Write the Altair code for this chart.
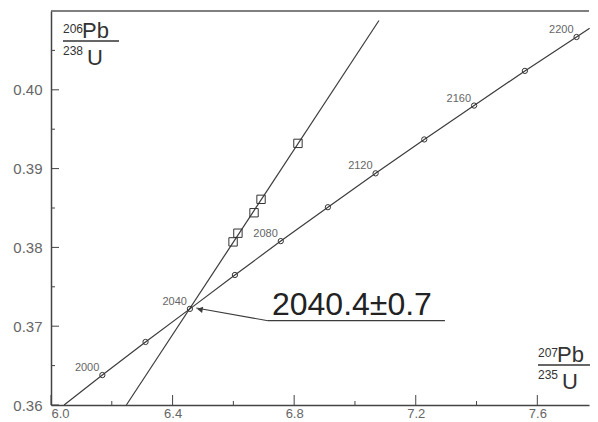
import altair as alt
import pandas as pd

# ---- data ----
ages = [2000, 2020, 2040, 2060, 2080, 2100, 2120, 2140, 2160, 2180, 2200]
conc_x = [6.169, 6.311, 6.457, 6.605, 6.756, 6.911, 7.068, 7.228, 7.392, 7.559, 7.729]
conc_y = [0.3638, 0.3680, 0.3722, 0.3765, 0.3808, 0.3851, 0.3894, 0.3937, 0.3980, 0.4024, 0.4067]
# concordia curve where it leaves the frame (bottom-left and top-right)
curve_x = [6.043] + conc_x + [7.772]
curve_y = [0.3600] + conc_y + [0.4078]
labelled_ages = [2000, 2040, 2080, 2120, 2160, 2200]

data_x = [6.599, 6.615, 6.668, 6.691, 6.8125]
data_y = [0.3807, 0.3818, 0.3844, 0.3861, 0.3932]

disc_x = [6.248, 7.079]
disc_y = [0.3600, 0.4088]

result_text = ["2040.4±0.7"]
result_xy = [6.727, 0.3714]
underline_x = [6.714, 7.296]
underline_y = 0.3707
arrow_x = [6.714, 6.478]
arrow_y = [0.3707, 0.3723]

x_major = [6.0, 6.4, 6.8, 7.2, 7.6]
x_minor = [6.2, 6.6, 7.0, 7.4]
y_major = [0.36, 0.37, 0.38, 0.39, 0.40]
y_minor = [0.365, 0.375, 0.385, 0.395, 0.405]

# ---- layout ----
W, H = 538, 394
FONT = "Liberation Sans"
LINE = "#3c3c3c"

xs = alt.Scale(domain=[6.0, 7.77], nice=False, zero=False)
ys = alt.Scale(domain=[0.36, 0.41], nice=False, zero=False)
xax = alt.Axis(values=x_major, format=".1f", ticks=False, grid=False, labelFontSize=13,
               labelColor="#666", labelPadding=2, domainColor="#444", domainWidth=1.5,
               title=None, labelFont=FONT)
yax = alt.Axis(values=y_major, format=".2f", ticks=False, grid=False, labelFontSize=15,
               labelColor="#666", labelPadding=9, domainColor="#444", domainWidth=1.5,
               title=None, labelFont=FONT)
X = lambda f="x": alt.X(f"{f}:Q", scale=xs, axis=xax)
Y = lambda f="y": alt.Y(f"{f}:Q", scale=ys, axis=yax)

curve_df = pd.DataFrame({"i": range(len(curve_x)), "x": curve_x, "y": curve_y})
conc_df = pd.DataFrame({"age": ages, "x": conc_x, "y": conc_y})
lab_df = conc_df[conc_df["age"].isin(labelled_ages)].copy()
lab_df["t"] = lab_df["age"].astype(str)

curve = alt.Chart(curve_df).mark_line(color=LINE, strokeWidth=1.2).encode(
    x=X(), y=Y(), order="i:Q")
markers = alt.Chart(conc_df).mark_point(shape="circle", size=28, filled=False,
                                        color="#333", strokeWidth=1, opacity=1).encode(x=X(), y=Y())
age_labels = alt.Chart(lab_df).mark_text(align="right", baseline="middle", dx=-3, dy=-7,
                                         fontSize=11, font=FONT, color="#666").encode(
    x=X(), y=Y(), text="t:N")

disc = alt.Chart(pd.DataFrame({"x": disc_x, "y": disc_y})).mark_line(
    color=LINE, strokeWidth=1.2).encode(x=X(), y=Y())
squares = alt.Chart(pd.DataFrame({"x": data_x, "y": data_y})).mark_point(
    shape="square", size=70, filled=False, color="#333", strokeWidth=1, opacity=1).encode(x=X(), y=Y())

res_text = alt.Chart(pd.DataFrame({"x": [result_xy[0]], "y": [result_xy[1]], "t": result_text})).mark_text(
    align="left", baseline="alphabetic", fontSize=32, font=FONT, color="#222").encode(
    x=X(), y=Y(), text="t:N")
underline = alt.Chart(pd.DataFrame({"x": [underline_x[0]], "x2": [underline_x[1]], "y": [underline_y]})).mark_rule(
    color=LINE, strokeWidth=1.2).encode(x=X(), x2="x2:Q", y=Y())
arrow = alt.Chart(pd.DataFrame({"x": arrow_x, "y": arrow_y})).mark_line(
    color=LINE, strokeWidth=1.1).encode(x=X(), y=Y())
head = alt.Chart(pd.DataFrame({"x": [arrow_x[1] + 0.012], "y": [arrow_y[1] - 0.00018]})).mark_point(
    shape="triangle-left", filled=True, size=40, angle=10, color=LINE, opacity=1).encode(x=X(), y=Y())

one = pd.DataFrame({"a": [0]})
top_border = alt.Chart(one).mark_rule(color="#555", strokeWidth=1.5).encode(
    x=alt.value(0), x2=alt.value(W), y=alt.value(0))

ytick_major = alt.Chart(pd.DataFrame({"y": y_major})).mark_rule(color="#444").encode(
    y=Y(), x=alt.value(0), x2=alt.value(8))
ytick_minor = alt.Chart(pd.DataFrame({"y": y_minor})).mark_rule(color="#444").encode(
    y=Y(), x=alt.value(0), x2=alt.value(4))
xtick_major = alt.Chart(pd.DataFrame({"x": x_major})).mark_rule(color="#444").encode(
    x=X(), y=alt.value(H), y2=alt.value(H - 10))
xtick_minor = alt.Chart(pd.DataFrame({"x": x_minor})).mark_rule(color="#444").encode(
    x=X(), y=alt.value(H), y2=alt.value(H - 4))


def frac_title(sup_top, top, sup_bot, bot, x0, y0, bar_w):
    layers = []
    parts = [(sup_top, 12, x0, y0 - 5), (top, 22, x0 + 19, y0),
             (sup_bot, 12, x0, y0 + 17), (bot, 22, x0 + 24, y0 + 27)]
    for txt, fs, px, py in parts:
        layers.append(alt.Chart(pd.DataFrame({"t": [txt]})).mark_text(
            align="left", baseline="alphabetic", fontSize=fs, font=FONT, color="#333").encode(
            x=alt.value(px), y=alt.value(py), text="t:N"))
    layers.append(alt.Chart(one).mark_rule(color="#333", strokeWidth=1.5).encode(
        x=alt.value(x0), x2=alt.value(x0 + bar_w), y=alt.value(y0 + 3)))
    return layers


ytitle = frac_title("206", "Pb", "238", "U", 12, 27, 56)
xtitle = frac_title("207", "Pb", "235", "U", 487, 351, 52)

chart = alt.layer(
    top_border, ytick_major, ytick_minor, xtick_major, xtick_minor,
    curve, disc, markers, squares, age_labels,
    underline, arrow, head, res_text,
    *ytitle, *xtitle,
).properties(
    width=W, height=H,
    autosize=alt.AutoSizeParams(type="none"),
    padding={"left": 43, "top": 3, "right": 1, "bottom": 17},
    background="white",
).configure_view(stroke=None)

chart.save("out.html", embed_options={"renderer": "svg", "actions": False})
